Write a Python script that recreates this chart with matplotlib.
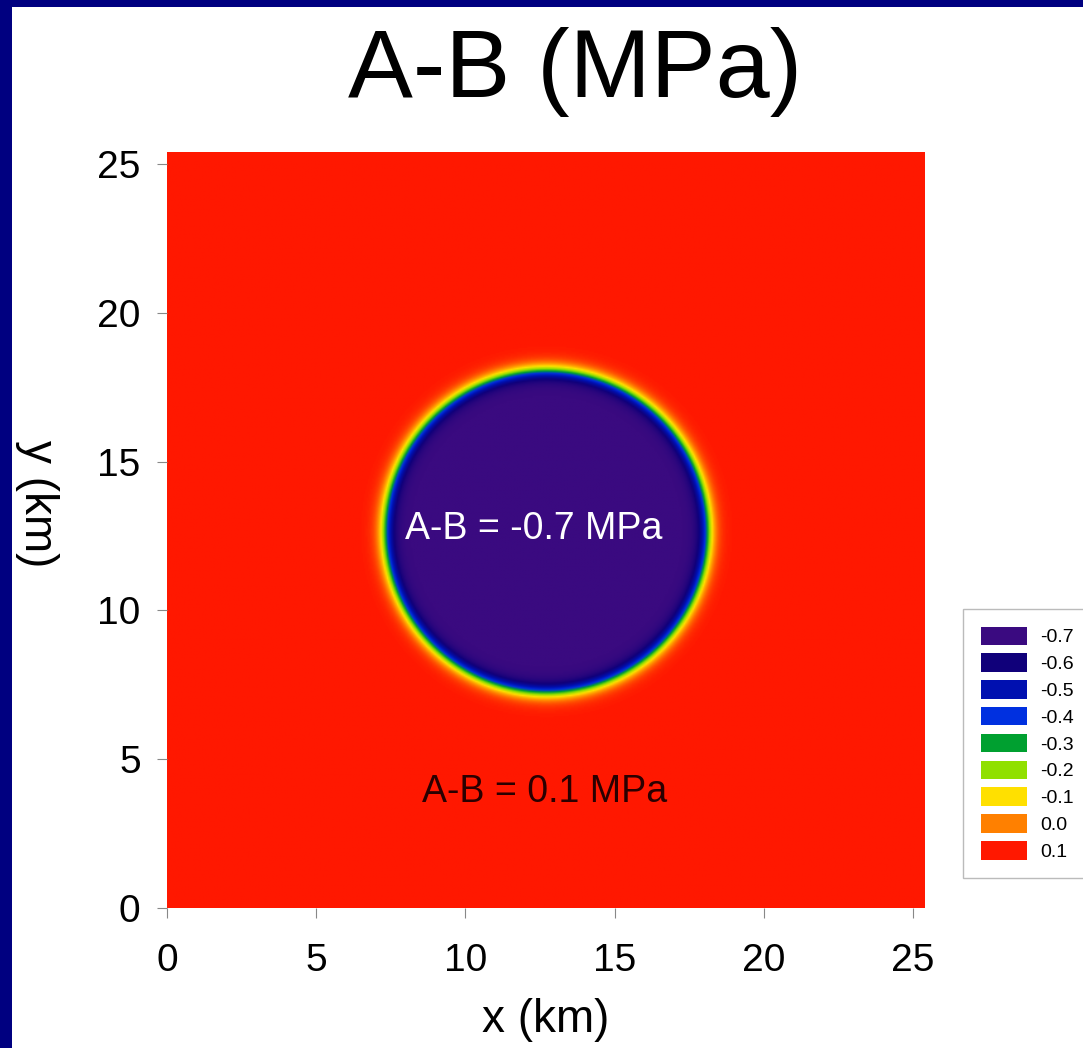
import numpy as np
import matplotlib.pyplot as plt
from matplotlib.colors import LinearSegmentedColormap
from matplotlib.patches import Patch, Rectangle

plt.rcParams['font.family'] = ['Liberation Sans', 'DejaVu Sans']

# legend levels and colours
levels = [-0.7, -0.6, -0.5, -0.4, -0.3, -0.2, -0.1, 0.0, 0.1]
level_labels = ['-0.7', '-0.6', '-0.5', '-0.4', '-0.3', '-0.2', '-0.1', '0.0', '0.1']
level_colors = ['#3a0a80', '#10007a', '#0010b0', '#0030e0', '#00a030',
                '#90e000', '#ffe000', '#ff8000', '#ff1800']

# model: A-B field, low patch inside a circle
domain = 25.4          # km
center_x, center_y = 12.72, 12.63
radius = 5.4           # km, middle of transition
width = 0.3            # km, transition half-width
inside_val = -0.7
outside_val = 0.1

xticks = [0, 5, 10, 15, 20, 25]
yticks = [0, 5, 10, 15, 20, 25]

n = 600
xs = np.linspace(0, domain, n)
ys = np.linspace(0, domain, n)
X, Y = np.meshgrid(xs, ys)
r = np.sqrt((X - center_x)**2 + (Y - center_y)**2)
mid = 0.5 * (inside_val + outside_val)
half = 0.5 * (outside_val - inside_val)
field = mid + half * np.tanh((r - radius) / width)

cmap = LinearSegmentedColormap.from_list('ab', level_colors)

fig = plt.figure(figsize=(10.83, 10.48), dpi=100)
fig.patch.set_facecolor('white')
# slide border
fig.patches.append(Rectangle((0, 0), 12/1083, 1, transform=fig.transFigure,
                             facecolor='#000080', edgecolor='none', zorder=0))
fig.patches.append(Rectangle((0, 1 - 7/1048), 1, 7/1048, transform=fig.transFigure,
                             facecolor='#000080', edgecolor='none', zorder=0))

ax = fig.add_axes([167/1083, 140/1048, 758/1083, 756/1048])
ax.imshow(field, origin='lower', extent=[0, domain, 0, domain], cmap=cmap,
          vmin=-0.7, vmax=0.1, interpolation='bilinear', aspect='auto')
ax.set_xlim(0, domain)
ax.set_ylim(0, domain)
ax.set_xticks(xticks)
ax.set_yticks(yticks)
for s in ax.spines.values():
    s.set_visible(False)
ax.tick_params(direction='out', length=7, width=0.8, color='#888888',
               labelsize=28, pad=12)
ax.tick_params(axis='x', pad=18)

ax.set_xlabel('x (km)', fontsize=33, labelpad=14)
ax.set_ylabel('y (km)', fontsize=33, rotation=-90, va='center', ha='center')
ax.yaxis.set_label_coords(-0.171, 0.535)

ax.text(12.3, 12.75, 'A-B = -0.7 MPa', color='white', fontsize=27,
        ha='center', va='center')
ax.text(12.65, 3.9, 'A-B = 0.1 MPa', color='#2a0000', fontsize=27,
        ha='center', va='center')

fig.text(575/1083, 1 - 72/1048, 'A-B (MPa)', fontsize=70, ha='center', va='center')

handles = [Patch(facecolor=c, edgecolor='none') for c in level_colors]
leg = fig.legend(handles, level_labels, loc='upper left',
                 bbox_to_anchor=(963/1083, 1 - 609/1048), fontsize=14,
                 frameon=True, fancybox=False, edgecolor='#aaaaaa',
                 handlelength=2.4, handleheight=1.08, labelspacing=0.36,
                 borderpad=0.9, handletextpad=0.65, borderaxespad=0)
leg.get_frame().set_linewidth(1.0)

fig.savefig('out.png', dpi=100)
